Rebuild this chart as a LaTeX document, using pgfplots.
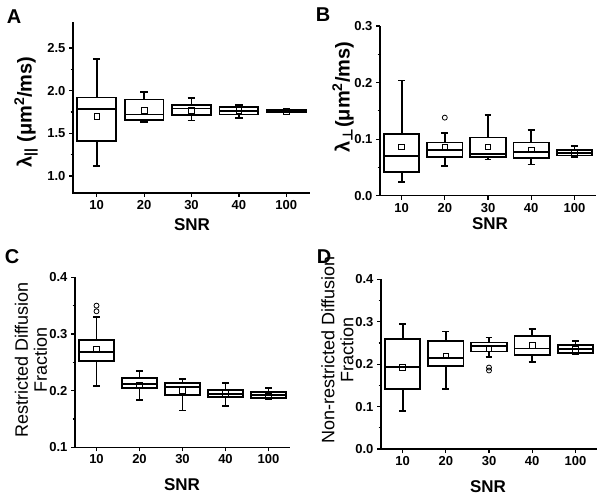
\documentclass[border=0pt]{standalone}
\usepackage{fontspec}
\setmainfont{Liberation Sans}
\newfontfamily\dejavu{DejaVu Sans}
\usepackage{pgfplots}
\pgfplotsset{compat=1.18}
\usepgfplotslibrary{statistics}

\pgfplotsset{
  panel/.style={
    scale only axis,
    anchor=south west,
    xmin=0.5, xmax=5.5,
    xtick={1,2,3,4,5},
    xticklabels={10,20,30,40,100},
    axis x line=bottom, axis y line=left,
    axis line style={-, line width=1.4pt, black},
    tick align=outside,
    major tick length=4pt, minor tick length=2.5pt,
    every tick/.style={black, line width=1.2pt},
    minor y tick num=1,
    tick label style={font=\fontsize{13}{15}\selectfont\bfseries},
    /pgf/number format/assume math mode=true,
    y tick label style={/pgf/number format/.cd, fixed, fixed zerofill, precision=1, /tikz/.cd},
    clip=false,
    boxplot/draw direction=y,
    boxplot/box extend=0.82,
    boxplot/whisker extend=0.16,
  },
  bx/.style={boxplot prepared={#1}, draw=black, line width=1.8pt, fill=white, solid, mark=none},
  meanmk/.style={only marks, mark=square, mark size=2.8pt, mark options={draw=black, fill=white, line width=0.8pt}},
  outmk/.style={only marks, mark=o, mark size=2.5pt, mark options={draw=black, line width=0.8pt}},
}

\begin{document}
\begin{tikzpicture}
\useasboundingbox (0pt,0pt) rectangle (600pt,496pt);

% ---------------- Panel A ----------------
\begin{axis}[panel, name=pA, at={(73pt,303pt)}, width=237pt, height=170.6pt,
  ymin=0.8, ymax=2.8, ytick={1.0,1.5,2.0,2.5}]
\addplot[bx={draw position=1, lower whisker=1.12, lower quartile=1.41, median=1.785, upper quartile=1.92, upper whisker=2.375}] coordinates {};
\addplot[bx={draw position=2, lower whisker=1.63, lower quartile=1.66, median=1.72, upper quartile=1.895, upper whisker=1.98}] coordinates {};
\addplot[bx={draw position=3, lower whisker=1.65, lower quartile=1.71, median=1.79, upper quartile=1.836, upper whisker=1.91}] coordinates {};
\addplot[bx={draw position=4, lower whisker=1.68, lower quartile=1.72, median=1.765, upper quartile=1.805, upper whisker=1.836}] coordinates {};
\addplot[bx={draw position=5, lower whisker=1.745, lower quartile=1.75, median=1.76, upper quartile=1.77, upper whisker=1.775}] coordinates {};
\addplot[meanmk] coordinates {(1,1.70) (2,1.765) (3,1.765) (4,1.765) (5,1.76)};
\end{axis}

% ---------------- Panel B ----------------
\begin{axis}[panel, name=pB, at={(380pt,300.3pt)}, width=216pt, height=169.7pt,
  ymin=0, ymax=0.3, ytick={0,0.1,0.2,0.3}]
\addplot[bx={draw position=1, lower whisker=0.024, lower quartile=0.042, median=0.070, upper quartile=0.109, upper whisker=0.2035}] coordinates {};
\addplot[bx={draw position=2, lower whisker=0.053, lower quartile=0.068, median=0.081, upper quartile=0.094, upper whisker=0.111}] coordinates {};
\addplot[bx={draw position=3, lower whisker=0.064, lower quartile=0.069, median=0.074, upper quartile=0.103, upper whisker=0.1426}] coordinates {};
\addplot[bx={draw position=4, lower whisker=0.055, lower quartile=0.066, median=0.077, upper quartile=0.094, upper whisker=0.116}] coordinates {};
\addplot[bx={draw position=5, lower whisker=0.068, lower quartile=0.071, median=0.076, upper quartile=0.081, upper whisker=0.088}] coordinates {};
\addplot[meanmk] coordinates {(1,0.086) (2,0.086) (3,0.086) (4,0.081) (5,0.075)};
\addplot[outmk] coordinates {(2,0.138)};
\end{axis}

% ---------------- Panel C ----------------
\begin{axis}[panel, name=pC, at={(75pt,48.7pt)}, width=215pt, height=170pt,
  ymin=0.1, ymax=0.4, ytick={0.1,0.2,0.3,0.4}]
\addplot[bx={draw position=1, lower whisker=0.208, lower quartile=0.253, median=0.268, upper quartile=0.289, upper whisker=0.330}] coordinates {};
\addplot[bx={draw position=2, lower whisker=0.184, lower quartile=0.204, median=0.212, upper quartile=0.222, upper whisker=0.234}] coordinates {};
\addplot[bx={draw position=3, lower whisker=0.165, lower quartile=0.193, median=0.206, upper quartile=0.214, upper whisker=0.221}] coordinates {};
\addplot[bx={draw position=4, lower whisker=0.173, lower quartile=0.189, median=0.194, upper quartile=0.201, upper whisker=0.214}] coordinates {};
\addplot[bx={draw position=5, lower whisker=0.185, lower quartile=0.187, median=0.193, upper quartile=0.198, upper whisker=0.205}] coordinates {};
\addplot[meanmk] coordinates {(1,0.274) (2,0.210) (3,0.200) (4,0.195) (5,0.190)};
\addplot[outmk] coordinates {(1,0.340) (1,0.350)};
\end{axis}

% ---------------- Panel D ----------------
\begin{axis}[panel, name=pD, at={(381pt,47pt)}, width=216pt, height=169.7pt,
  ymin=0, ymax=0.4, ytick={0,0.1,0.2,0.3,0.4}]
\addplot[bx={draw position=1, lower whisker=0.089, lower quartile=0.141, median=0.194, upper quartile=0.259, upper whisker=0.295}] coordinates {};
\addplot[bx={draw position=2, lower whisker=0.141, lower quartile=0.196, median=0.215, upper quartile=0.255, upper whisker=0.277}] coordinates {};
\addplot[bx={draw position=3, lower whisker=0.216, lower quartile=0.230, median=0.243, upper quartile=0.251, upper whisker=0.263}] coordinates {};
\addplot[bx={draw position=4, lower whisker=0.206, lower quartile=0.222, median=0.237, upper quartile=0.267, upper whisker=0.283}] coordinates {};
\addplot[bx={draw position=5, lower whisker=0.223, lower quartile=0.227, median=0.236, upper quartile=0.245, upper whisker=0.255}] coordinates {};
\addplot[meanmk] coordinates {(1,0.193) (2,0.219) (3,0.237) (4,0.244) (5,0.235)};
\addplot[outmk] coordinates {(3,0.192) (3,0.185)};
\end{axis}

% y axis lines drawn as thin filled bars
\foreach \p in {pA,pB,pC,pD}{
  \fill[black] ([xshift=-0.8pt,yshift=-0.7pt]\p.south west) rectangle ([xshift=0.8pt]\p.north west);
}

% ---------------- labels ----------------
\node[font=\fontsize{20}{22}\selectfont\bfseries] at (14pt,479pt) {A};
\node[font=\fontsize{20}{22}\selectfont\bfseries] at (323pt,481pt) {B};
\node[font=\fontsize{20}{22}\selectfont\bfseries] at (12pt,239pt) {C};
\node[font=\fontsize{20}{22}\selectfont\bfseries] at (324pt,239pt) {D};

\node[font=\fontsize{17}{20}\selectfont\bfseries] at (192pt,271pt) {SNR};
\node[font=\fontsize{17}{20}\selectfont\bfseries] at (490pt,272pt) {SNR};
\node[font=\fontsize{17}{20}\selectfont\bfseries] at (182pt,11pt) {SNR};
\node[font=\fontsize{17}{20}\selectfont\bfseries] at (488pt,9pt) {SNR};

\node[rotate=90, font=\fontsize{20}{22}\selectfont\bfseries] at (26pt,384pt) {λ\textsubscript{||} (μm\textsuperscript{2}/ms)};
\node[rotate=90, font=\fontsize{20}{22}\selectfont\bfseries] at (343pt,399pt) {λ\textsubscript{\dejavu\bfseries ⊥}(μm\textsuperscript{2}/ms)};
\node[rotate=90, align=center, font=\fontsize{18}{19}\selectfont] at (31pt,136pt) {Restricted Diffusion\\Fraction};
\node[rotate=90, align=center, font=\fontsize{18}{19}\selectfont] at (337.5pt,146pt) {Non-restricted Diffusion\\Fraction};
\end{tikzpicture}
\end{document}
